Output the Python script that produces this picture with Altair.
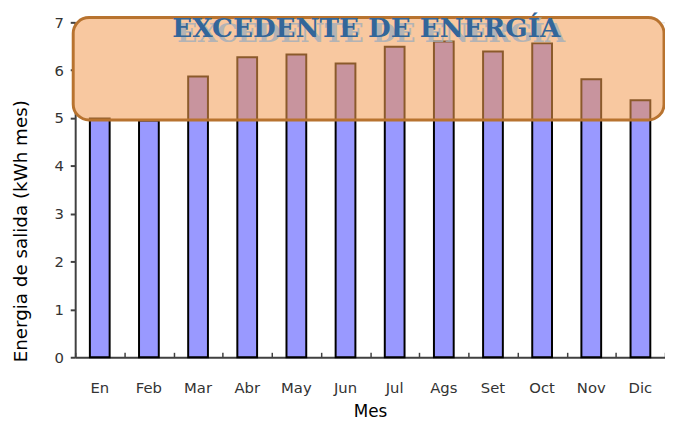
import altair as alt
import pandas as pd

meses = ["En", "Feb", "Mar", "Abr", "May", "Jun", "Jul", "Ags", "Set", "Oct", "Nov", "Dic"]
valores = [4.99, 4.95, 5.87, 6.27, 6.33, 6.14, 6.49, 6.60, 6.39, 6.56, 5.81, 5.37]

caja_inferior = 4.96
caja_superior = 7.10
etiqueta = "EXCEDENTE DE ENERGÍA"

W, H = 597, 339

df = pd.DataFrame({"mes": meses, "valor": valores})
caja = pd.DataFrame({"y1": [caja_superior], "y2": [caja_inferior], "t": [etiqueta]})

xscale = alt.Scale(paddingInner=0.0, paddingOuter=0.0)
xenc = alt.X("mes:N", sort=meses, scale=xscale,
             axis=alt.Axis(title="Mes", labelAngle=0, ticks=False, domain=True,
                           domainColor="#404040", domainWidth=2, labelPadding=24,
                           labelFontSize=15, labelColor="#333333", labelFont="DejaVu Sans",
                           titleFontSize=17, titleFont="DejaVu Sans", titleFontWeight="normal",
                           titleColor="#000000", titleY=60, titleBaseline="alphabetic"))
yscale = alt.Scale(domain=[0, 7], nice=False)
yenc = alt.Y("valor:Q", scale=yscale,
             axis=alt.Axis(title="Energia de salida  (kWh mes)", values=list(range(0, 8)), grid=False,
                           domainColor="#404040", domainWidth=2, tickColor="#404040", tickWidth=2,
                           tickSize=5, labelPadding=7, labelFontSize=15, labelColor="#333333",
                           labelFont="DejaVu Sans",
                           titleFontSize=18.5, titleFont="DejaVu Sans", titleFontWeight="normal",
                           titleColor="#000000", titleX=-49, titleY=211, titleAngle=270,
                           titleBaseline="alphabetic", titleAlign="center"))

base = alt.Chart(df)

azul = base.mark_bar(size=20, fill="#9999FF", stroke="#000000", strokeWidth=2).encode(x=xenc, y=yenc)

ticks_x = base.mark_bar(size=20, opacity=0).encode(
    x=alt.X("mes:N", sort=meses,
            axis=alt.Axis(orient="bottom", offset=-5, tickSize=5, tickBand="extent", labels=False,
                          domain=False, title=None, tickColor="#404040", tickWidth=1.5)),
    y=alt.Y("valor:Q"))

cbase = alt.Chart(caja)
caja_fill = cbase.mark_rect(cornerRadius=16, fill="#F8C8A0").encode(
    x=alt.value(-2), x2=alt.value(W - 1),
    y=alt.Y("y1:Q"), y2="y2:Q")

malva = base.transform_filter(alt.datum.valor > caja_inferior).transform_calculate(
    b=str(caja_inferior)).mark_bar(size=20, fill="#C8949E", stroke="#8B5A2B", strokeWidth=2).encode(
    x=alt.X("mes:N", sort=meses, axis=None), y=alt.Y("valor:Q"), y2="b:Q")

caja_borde = cbase.mark_rect(cornerRadius=16, fillOpacity=0, stroke="#B8732F", strokeWidth=3).encode(
    x=alt.value(-2), x2=alt.value(W - 1),
    y=alt.Y("y1:Q"), y2="y2:Q")

sombra = cbase.mark_text(font="DejaVu Serif", fontWeight="bold", fontSize=26.5, color="#A3AFBB",
                         opacity=0.8, align="center", baseline="alphabetic", dx=26, dy=5).encode(
    x=alt.X(datum="Jun", axis=None), y=alt.Y(datum=6.7), text="t:N")
texto = cbase.mark_text(font="DejaVu Serif", fontWeight="bold", fontSize=26.5, color="#336699",
                        align="center", baseline="alphabetic", dx=21).encode(
    x=alt.X(datum="Jun", axis=None), y=alt.Y(datum=6.7), text="t:N")

chart = alt.layer(azul, ticks_x, caja_fill, malva, caja_borde, sombra, texto).resolve_axis(
    x="independent").properties(
    width=W, height=H,
    autosize=alt.AutoSizeParams(type="none"),
    padding={"left": 68, "top": 12, "right": 0, "bottom": 61},
).configure_view(stroke=None).configure(background="#FFFFFF")

chart.save("out.html", embed_options={"renderer": "svg", "actions": False})
